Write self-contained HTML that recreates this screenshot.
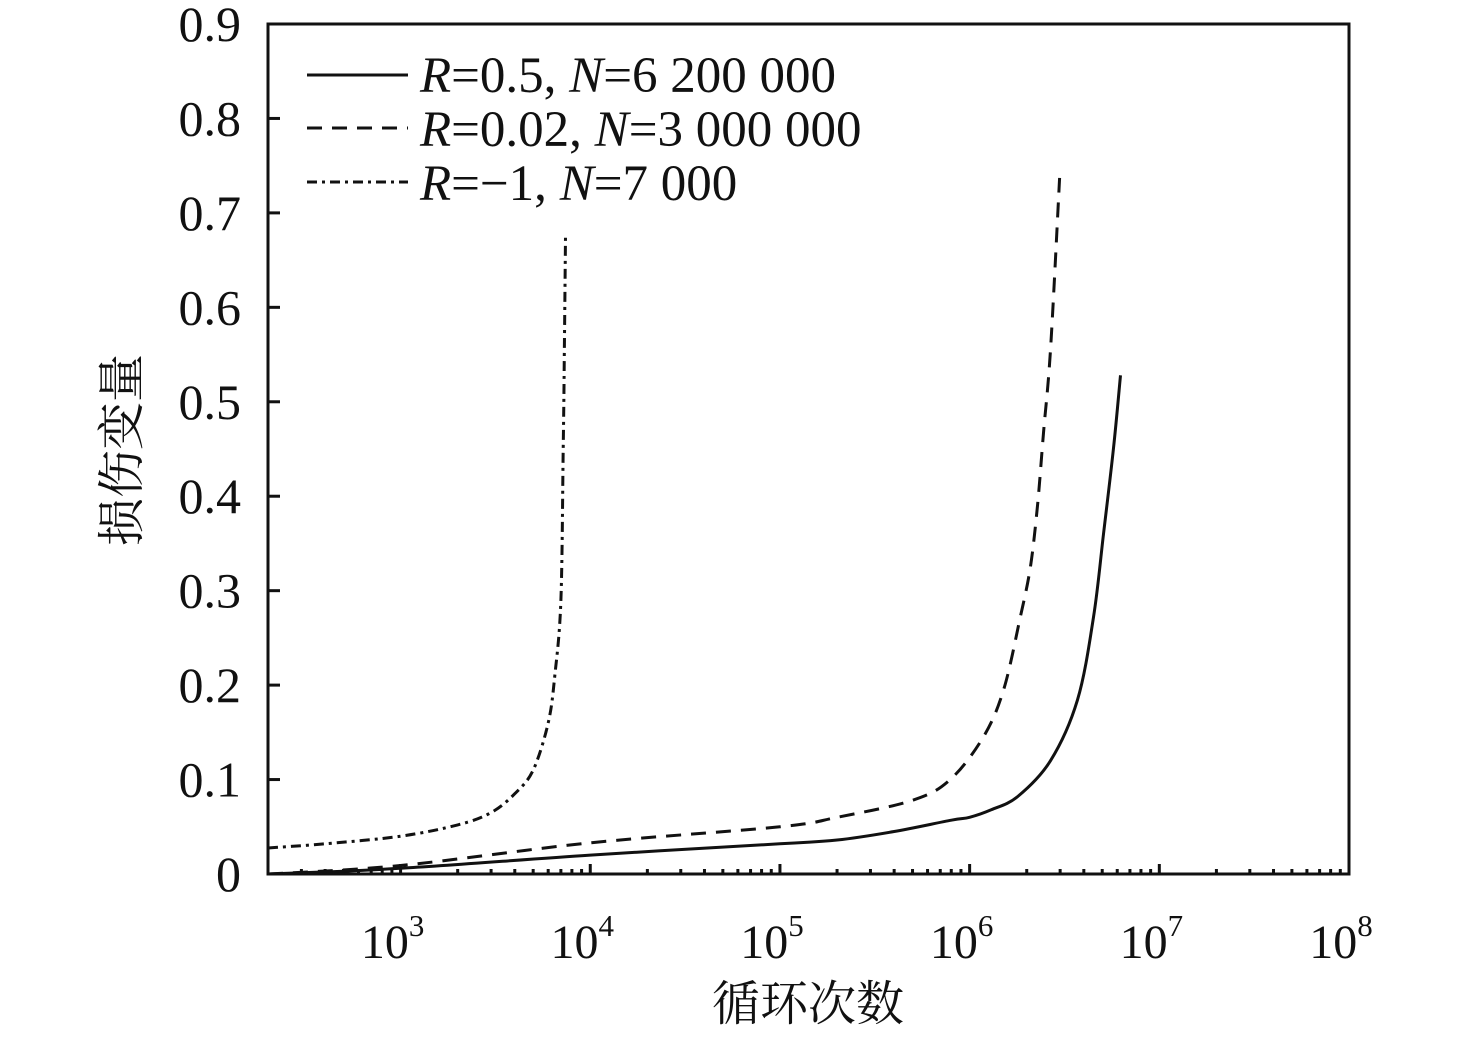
<!DOCTYPE html>
<html><head><meta charset="utf-8"><style>
html,body{margin:0;padding:0;background:#fff}
svg{display:block;font-family:"Liberation Serif","Noto Serif CJK SC",serif}
</style></head><body>
<svg id="chart" width="1476" height="1039" viewBox="0 0 1476 1039" xmlns="http://www.w3.org/2000/svg">
<rect x="268" y="24" width="1081" height="850" fill="none" stroke="#111" stroke-width="3"/>
<g id="ticks"></g>
<g id="series"></g>
<g font-size="51" fill="#111">
<g><line x1="307" y1="75" x2="408" y2="75" stroke="#111" stroke-width="3"/><text x="420" y="92"><tspan font-style="italic">R</tspan>=0.5, <tspan font-style="italic">N</tspan>=6 200 000</text></g>
<g><line x1="307" y1="128" x2="408" y2="128" stroke="#111" stroke-width="3" stroke-dasharray="15 10"/><text x="420" y="146"><tspan font-style="italic">R</tspan>=0.02, <tspan font-style="italic">N</tspan>=3 000 000</text></g>
<g><line x1="307" y1="182" x2="408" y2="182" stroke="#111" stroke-width="3" stroke-dasharray="10 5 3 5"/><text x="420" y="200"><tspan font-style="italic">R</tspan>=−1, <tspan font-style="italic">N</tspan>=7 000</text></g>
</g>
<text x="808" y="1020" font-size="48" text-anchor="middle" fill="#111">循环次数</text>
<text transform="translate(138,450) rotate(-90)" font-size="48" text-anchor="middle" fill="#111">损伤变量</text>
</svg>
<script>
const yTicks=[0,0.1,0.2,0.3,0.4,0.5,0.6,0.7,0.8,0.9];
const yTickLabels=["0","0.1","0.2","0.3","0.4","0.5","0.6","0.7","0.8","0.9"];
const xDecades=[3,4,5,6,7,8];
const nR05=[200,1000,10000,100000,200000,400000,800000,1000000,1300000,1790000,2670000,3700000,4500000,5080000,5730000,6240000];
const dR05=[0,0.006,0.02,0.032,0.036,0.045,0.057,0.06,0.068,0.082,0.12,0.184,0.272,0.36,0.45,0.528];
const nR002=[200,1000,10000,100000,200000,500000,790000,1180000,1510000,1850000,2090000,2280000,2450000,2670000,2980000];
const dR002=[0,0.009,0.033,0.05,0.06,0.078,0.10,0.145,0.195,0.272,0.325,0.39,0.467,0.555,0.737];
const nRm1=[200,400,1000,2000,3000,4000,5000,6000,6500,7000,7200,7300,7400];
const dRm1=[0.0275,0.032,0.040,0.052,0.065,0.085,0.11,0.16,0.21,0.29,0.45,0.55,0.675];
const NS="http://www.w3.org/2000/svg";
const X0=268,X1=1349,Y0=874,Y1=24,LMIN=Math.log10(200),LMAX=8;
const xs=n=>X0+(Math.log10(n)-LMIN)/(LMAX-LMIN)*(X1-X0);
const ys=v=>Y0-v/0.9*(Y0-Y1);
const tk=document.getElementById('ticks'),sg=document.getElementById('series');
function mk(t,a,p){const e=document.createElementNS(NS,t);for(const k in a)e.setAttribute(k,a[k]);p.appendChild(e);return e;}
yTicks.forEach((v,i)=>{
 const l=mk('line',{x1:X0,x2:X0+12,y1:ys(v),y2:ys(v),stroke:'#111','stroke-width':3},tk);
 
 
 const t=mk('text',{x:241,y:ys(v)+17,'font-size':50,'text-anchor':'end',fill:'#111'},tk);
 
 
 t.textContent=yTickLabels[i];
});
for(let d=2;d<8;d++){for(let m=1;m<10;m++){const n=m*Math.pow(10,d);if(n<200||n>1e8)continue;
 const x=xs(n),major=(m===1);
 const l=mk('line',{x1:x,x2:x,y1:Y0,y2:Y0-(major?10:5),stroke:'#111','stroke-width':3},tk);
 
 
}}
xDecades.forEach(d=>{
 const t=mk('text',{x:xs(Math.pow(10,d))-8,y:958,'font-size':48,'text-anchor':'middle',fill:'#111'},tk);
 
 
 t.textContent='10';
 const s=mk('tspan',{dy:-22,'font-size':31},t);s.textContent=String(d);
});
function line(ns,ds,dash,name){
 const P=ns.map((n,i)=>[xs(n),ys(ds[i])]);
 let d='M'+P[0][0].toFixed(1)+','+P[0][1].toFixed(1);
 for(let i=0;i<P.length-1;i++){
  const p0=P[Math.max(i-1,0)],p1=P[i],p2=P[i+1],p3=P[Math.min(i+2,P.length-1)];
  const c1=[p1[0]+(p2[0]-p0[0])/6,p1[1]+(p2[1]-p0[1])/6],c2=[p2[0]-(p3[0]-p1[0])/6,p2[1]-(p3[1]-p1[1])/6];
  d+=' C'+c1.map(v=>v.toFixed(1)).join(',')+' '+c2.map(v=>v.toFixed(1)).join(',')+' '+p2[0].toFixed(1)+','+p2[1].toFixed(1);
 }
 const p=mk('path',{d:d,fill:'none',stroke:'#111','stroke-width':3,'stroke-dasharray':dash,'stroke-linejoin':'round'},sg);
 
 
}
line(nR05,dR05,'none','series-r05');
line(nR002,dR002,'15 10','series-r002');
line(nRm1,dRm1,'10 5 3 5','series-rm1');
</script>
</body></html>
